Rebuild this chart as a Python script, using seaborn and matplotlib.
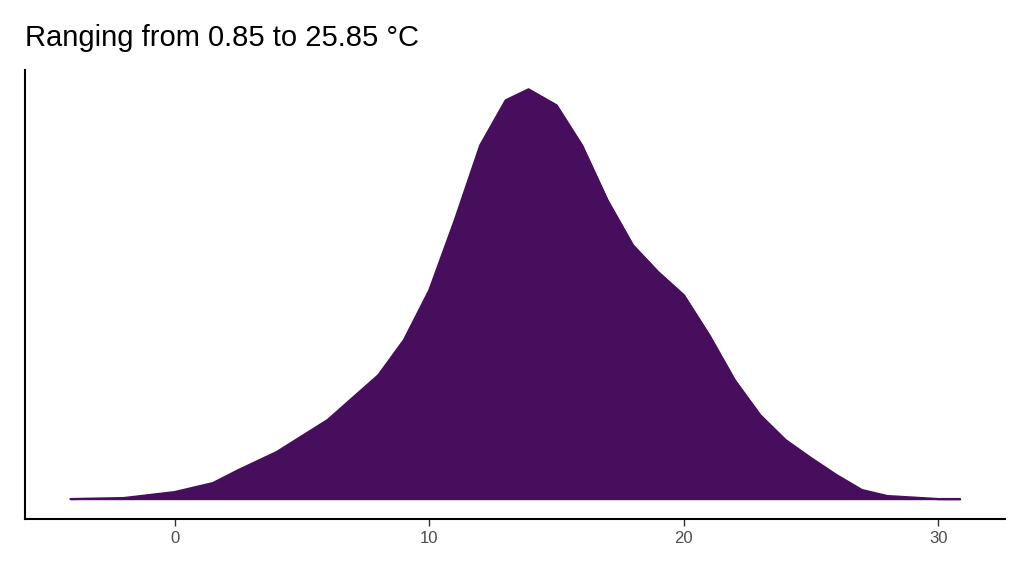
import matplotlib
matplotlib.use("Agg")
import matplotlib.pyplot as plt
import seaborn as sns
import pandas as pd

temp = [-4.1, -2, 0, 1.5, 2.5, 4, 6, 8, 9, 10, 11, 12, 13, 13.9, 15, 16, 17, 18, 19, 20,
        21, 22, 23, 24, 25, 26, 27, 28, 30, 30.85]
density = [0, 1, 7, 16, 29, 47, 79, 124, 159, 209, 279, 354, 399, 410, 394, 354, 299, 254, 227, 204,
           164, 119, 84, 59, 41, 24, 9, 3, 0, 0]
df = pd.DataFrame({"temp": temp, "density": [d / 410 * 0.1 for d in density]})

sns.set_theme(style="white")
plt.rcParams['font.family'] = ['Liberation Sans', 'DejaVu Sans']
fig = plt.figure(figsize=(10.24, 5.76), dpi=100)
ax = fig.add_axes([0.024, 0.099, 0.957, 0.779])
color = "#470E5D"
sns.lineplot(data=df, x="temp", y="density", color=color, lw=1.5, ax=ax)
ax.fill_between(df["temp"], df["density"], color=color)
ax.set_xlim(-5.9, 32.6)
ax.set_ylim(-20 / 410 * 0.1, 429 / 410 * 0.1)
ax.set_xticks([0, 10, 20, 30])
ax.set_yticks([])
ax.set_xlabel("")
ax.set_ylabel("")
for s in ["top", "right"]:
    ax.spines[s].set_visible(False)
for s in ["left", "bottom"]:
    ax.spines[s].set_color("black")
    ax.spines[s].set_linewidth(1.5)
ax.tick_params(axis="x", length=5, width=1, color="#333333", labelsize=12, labelcolor="#4d4d4d", bottom=True)
fig.text(0.024, 0.92, "Ranging from 0.85 to 25.85 °C", fontsize=21, color="black", ha="left")
fig.savefig("out.png", dpi=100)
